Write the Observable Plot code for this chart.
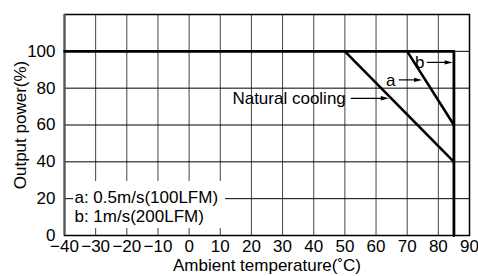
<!DOCTYPE html>
<html>
<head>
<meta charset="utf-8">
<script src="https://cdn.jsdelivr.net/npm/d3@7"></script>
<script src="https://cdn.jsdelivr.net/npm/@observablehq/plot@0.6"></script>
<style>
  html, body { margin: 0; padding: 0; background: #fff; }
</style>
</head>
<body>
<div id="chart"></div>
<script>
// ---- data ----
const xTicks = [-40, -30, -20, -10, 0, 10, 20, 30, 40, 50, 60, 70, 80, 90];
const yTicks = [0, 20, 40, 60, 80, 100];
const yGrid = [0, 20, 40, 60, 80, 100, 120];

// derating curves (temperature °C, output %)
const naturalX = [-40, 50, 85];
const naturalY = [100, 100, 40];
const aX = [70, 85];
const aY = [100, 60];
const bX = [50, 85, 85];
const bY = [100, 100, 0];

const labels = ["Natural cooling", "a", "b"];
const legendLines = ["a: 0.5m/s(100LFM)", "b: 1m/s(200LFM)"];
const xLabel = "Ambient temperature(˚C)";
const yLabel = "Output power(%)";

const toPts = (xs, ys) => xs.map((x, i) => ({x, y: ys[i]}));

const font = "'Liberation Sans', Arial, Helvetica, sans-serif";

const chart = Plot.plot({
  width: 478,
  height: 276,
  marginLeft: 64,
  marginRight: 9,
  marginTop: 14,
  marginBottom: 41,
  style: {fontFamily: font, fontSize: "17px", color: "#000", background: "#fff"},
  x: {domain: [-40, 90], label: null},
  y: {domain: [0, 120], label: null},
  marks: [
    Plot.ruleX(xTicks, {stroke: "#444", strokeWidth: 1}),
    Plot.ruleY(yGrid, {stroke: "#000", strokeWidth: 1}),
    // white legend box
    Plot.rect([0], {x1: -37.1, x2: 11.7, y1: 3.8, y2: 29.3, fill: "white"}),
    Plot.frame({stroke: "#000", strokeWidth: 1.5}),
    Plot.ruleX([-40], {stroke: "#555", strokeWidth: 2}),
    Plot.axisX(xTicks, {tickSize: 0, tickPadding: 4, fontSize: 17, label: null}),
    Plot.axisY(yTicks, {tickSize: 0, tickPadding: 9, fontSize: 17, label: null}),
    Plot.text([yLabel], {frameAnchor: "left", textAnchor: "middle", rotate: -90, dx: -44, fontSize: 17}),
    Plot.text([xLabel], {frameAnchor: "bottom", dy: 35, fontSize: 17}),
    // curves
    Plot.line(toPts(naturalX, naturalY), {x: "x", y: "y", stroke: "#000", strokeWidth: 2.6}),
    Plot.line(toPts(aX, aY), {x: "x", y: "y", stroke: "#000", strokeWidth: 2.6}),
    Plot.line(toPts(bX, bY), {x: "x", y: "y", stroke: "#000", strokeWidth: 2.8}),
    // annotations
    Plot.text([labels[0]], {x: 50.3, y: 74.5, textAnchor: "end", fontSize: 17}),
    Plot.link([0], {x1: 51.9, x2: 62.5, y1: 74.5, y2: 74.5, stroke: "#000", strokeWidth: 1.2}),
    Plot.vector([0], {x: 64.1, y: 74.5, length: 8, rotate: 90, shape: "spike", anchor: "end", r: 2.2, fill: "#000", stroke: "none"}),
    Plot.text([labels[1]], {x: 64.7, y: 84.2, fontSize: 17}),
    Plot.link([0], {x1: 67.3, x2: 73.2, y1: 84.5, y2: 84.5, stroke: "#000", strokeWidth: 1.2}),
    Plot.vector([0], {x: 74.8, y: 84.5, length: 8, rotate: 90, shape: "spike", anchor: "end", r: 2.2, fill: "#000", stroke: "none"}),
    Plot.text([labels[2]], {x: 74.0, y: 94.0, fontSize: 17}),
    Plot.link([0], {x1: 76.3, x2: 83.0, y1: 94.0, y2: 94.0, stroke: "#000", strokeWidth: 1.2}),
    Plot.vector([0], {x: 84.6, y: 94.0, length: 8, rotate: 90, shape: "spike", anchor: "end", r: 2.2, fill: "#000", stroke: "none"}),
    // legend text
    Plot.text([legendLines[0]], {x: -36.8, y: 20.7, textAnchor: "start", fontSize: 17}),
    Plot.text([legendLines[1]], {x: -36.8, y: 10.3, textAnchor: "start", fontSize: 17})
  ]
});
document.getElementById("chart").appendChild(chart);
</script>
</body>
</html>
